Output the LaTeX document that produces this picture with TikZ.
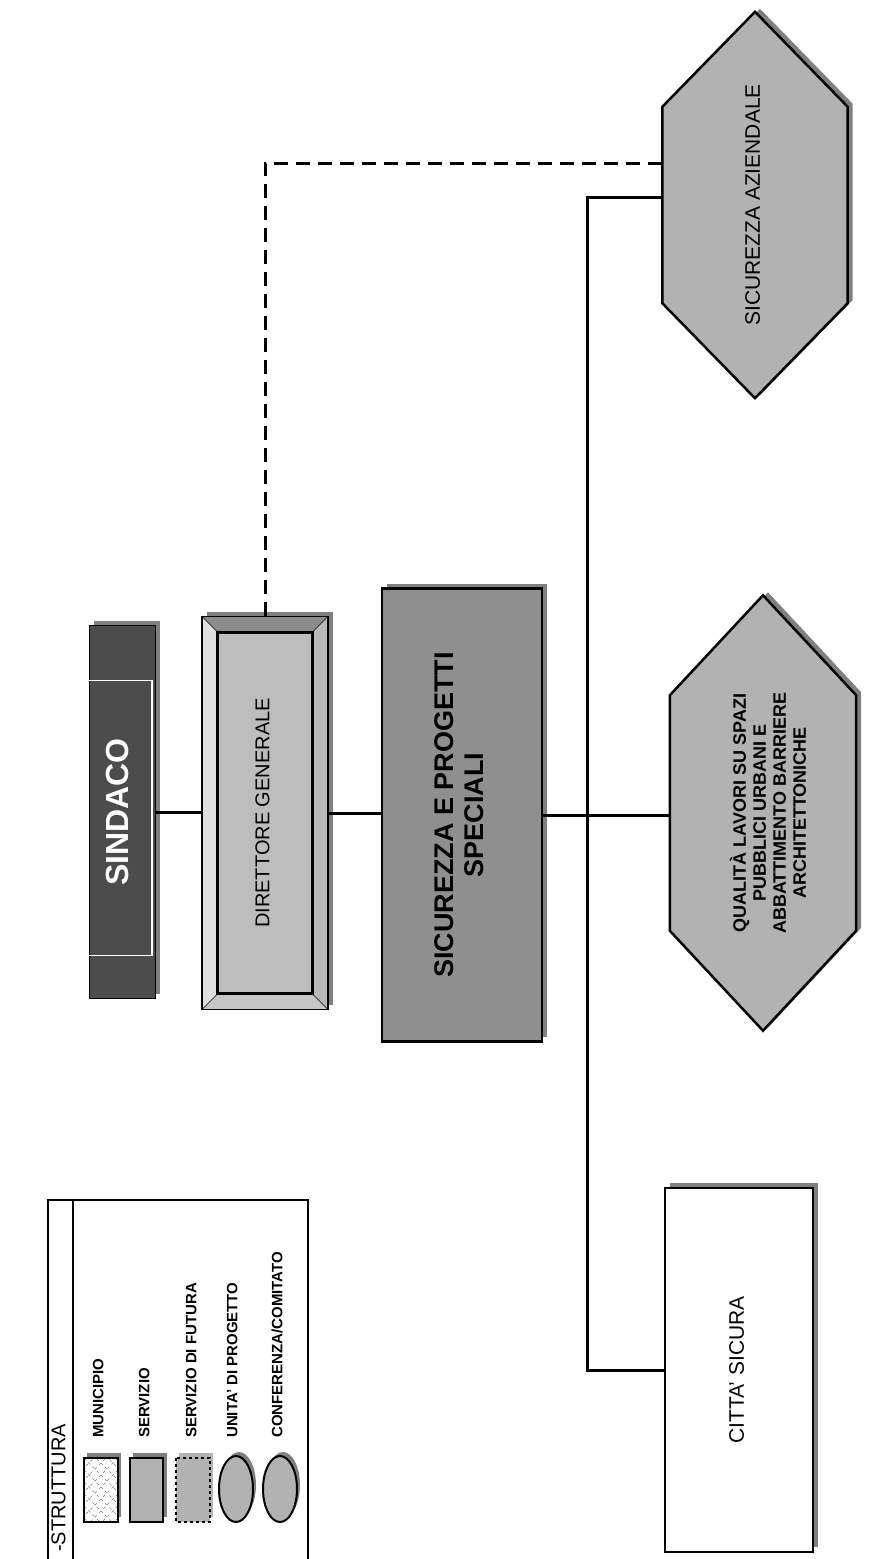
\documentclass[tikz,border=0pt]{standalone}
\usepackage{fontspec}
\setmainfont{Liberation Sans}
\usepackage{graphicx}
\usetikzlibrary{shadows}

\definecolor{sindacogray}{gray}{0.30}
\definecolor{dggray}{gray}{0.74}
\definecolor{spsgray}{gray}{0.56}
\definecolor{hexgray}{gray}{0.70}
\definecolor{shadowgray}{gray}{0.50}

\newcommand{\uptext}[1]{\rotatebox{90}{\begin{tabular}{@{}c@{}}#1\end{tabular}}}
\newcommand{\hexpath}[2]{(#1.north) -- ([yshift=-#2]#1.north east) -- ([yshift=#2]#1.south east) -- (#1.south) -- ([yshift=#2]#1.south west) -- ([yshift=-#2]#1.north west) -- cycle}

\tikzset{
  link/.style={line width=3pt},
  dashlink/.style={line width=3pt, dash pattern=on 14pt off 8pt},
  shadebox/.style={general shadow={fill=shadowgray, shadow xshift=5pt, shadow yshift=5pt}},
  sindacobox/.style={shadebox, draw, fill=sindacogray, text=white, minimum width=66pt, minimum height=373pt, inner sep=0pt, font=\fontsize{32}{34}\selectfont\bfseries},
  dgbox/.style={shadebox, draw, fill=dggray, minimum width=126pt, minimum height=393pt},
  spsbox/.style={shadebox, draw, line width=2.5pt, fill=spsgray, minimum width=160pt, minimum height=453pt, font=\fontsize{27}{30}\selectfont\bfseries},
  csbox/.style={shadebox, draw, line width=1.5pt, fill=white, minimum width=148pt, minimum height=364pt, font=\fontsize{21}{24}\selectfont},
  hexframe/.style={inner sep=0pt},
  hexline/.style={draw, line width=2.5pt, fill=hexgray},
  legendtext/.style={anchor=south, inner sep=0pt, font=\fontsize{15}{17}\selectfont\bfseries},
}

\begin{document}
\begin{tikzpicture}[x=1pt,y=-1pt]
  \useasboundingbox (0,0) rectangle (890,1559);

  % top of the chart
  \node[sindacobox] (sindaco) at (122,812) {\uptext{SINDACO}};
  \draw[white, line width=1.5pt] ([yshift=-55pt]sindaco.north west) -- ([xshift=-3pt,yshift=-55pt]sindaco.north east)
    -- ([xshift=-3pt,yshift=43pt]sindaco.south east) -- ([yshift=43pt]sindaco.south west);

  \node[dgbox] (dg) at (265,813) {};
  \fill[gray!50!black!60] (dg.north west) -- (dg.north east) -- ([xshift=-16pt,yshift=-16pt]dg.north east) -- ([xshift=16pt,yshift=-16pt]dg.north west) -- cycle;
  \fill[gray!45] (dg.south west) -- (dg.south east) -- ([xshift=-16pt,yshift=16pt]dg.south east) -- ([xshift=16pt,yshift=16pt]dg.south west) -- cycle;
  \fill[gray!25] (dg.north west) -- ([xshift=16pt,yshift=-16pt]dg.north west) -- ([xshift=16pt,yshift=16pt]dg.south west) -- (dg.south west) -- cycle;
  \fill[gray!55] (dg.north east) -- ([xshift=-16pt,yshift=-16pt]dg.north east) -- ([xshift=-16pt,yshift=16pt]dg.south east) -- (dg.south east) -- cycle;
  \draw (dg.north west) -- ([xshift=16pt,yshift=-16pt]dg.north west);
  \draw (dg.north east) -- ([xshift=-16pt,yshift=-16pt]dg.north east);
  \draw (dg.south west) -- ([xshift=16pt,yshift=16pt]dg.south west);
  \draw (dg.south east) -- ([xshift=-16pt,yshift=16pt]dg.south east);
  \draw[line width=1.5pt] (dg.north west) rectangle (dg.south east);
  \draw[line width=3pt] ([xshift=16pt,yshift=-16pt]dg.north west) rectangle ([xshift=-16pt,yshift=16pt]dg.south east);
  \node[font=\fontsize{20}{22}\selectfont] (dgtext) at (dg.center) {\uptext{DIRETTORE GENERALE}};

  \node[spsbox] (sps) at (462,815) {\uptext{SICUREZZA E PROGETTI\\SPECIALI}};

  % right column
  \node[hexframe, minimum width=185pt, minimum height=386pt] (sa-s) at (760,202) {};
  \fill[shadowgray] \hexpath{sa-s}{95pt};
  \node[hexframe, minimum width=185pt, minimum height=386pt] (sa) at (755,205) {};
  \draw[hexline] \hexpath{sa}{95pt};
  \node[font=\fontsize{21}{24}\selectfont] (satext) at (sa) {\uptext{SICUREZZA AZIENDALE}};

  \node[hexframe, minimum width=186pt, minimum height=435pt] (qlsp-s) at (768,810) {};
  \fill[shadowgray] \hexpath{qlsp-s}{100pt};
  \node[hexframe, minimum width=186pt, minimum height=435pt] (qlsp) at (763,813) {};
  \draw[hexline] \hexpath{qlsp}{100pt};
  \node[font=\fontsize{18}{20}\selectfont\bfseries] (qlsptext) at ([xshift=8pt]qlsp.center) {\uptext{QUALIT\`A LAVORI SU SPAZI\\PUBBLICI URBANI E\\ABBATTIMENTO BARRIERE\\ARCHITETTONICHE}};

  \node[csbox] (cs) at (739,1370) {\uptext{CITTA' SICURA}};

  % connectors
  \draw[link] (sindaco.east) -- (dg.west |- sindaco.east);
  \draw[link] (dg.east) -- (sps.west |- dg.east);
  \draw[dashlink] (dg.north) |- ([yshift=42pt]sa.west);
  \coordinate (bus) at (587,800);
  \draw[link] ([yshift=8pt]sa.west) -| (bus) |- (cs.west);
  \draw[link] (sps.east) -- (qlsp.west |- sps.east);

  % legend
  \draw[line width=2pt] (48,1559) -- (48,1200) -- (308,1200) -- (308,1559);
  \draw[line width=2pt] (73,1200) -- (73,1559);
  \node[anchor=south, inner sep=0pt, font=\fontsize{20}{22}\selectfont] (legtitle) at (61,1552) {\uptext{-STRUTTURA}};

  \fill[shadowgray] (87,1453) rectangle (121,1517);
  \draw[fill=white] (84,1458) rectangle (118,1522);
  \begin{scope}
    \clip (84,1458) rectangle (118,1522);
    \foreach \d in {-60,-48,...,60} {
      \draw[gray, dashed] (84,1458+\d) -- ++(40,40);
      \draw[gray, dashed] (118,1458+\d) -- ++(-40,40);
    }
  \end{scope}
  \draw[line width=1.5pt] (84,1458) rectangle (118,1522);
  \fill[shadowgray] (133,1453) rectangle (167,1517);
  \draw[line width=2pt, fill=gray!60] (130,1458) rectangle (163,1522);
  \fill[shadowgray!60] (179,1453) rectangle (213,1517);
  \draw[line width=2pt, dashed, fill=gray!60] (176,1458) rectangle (210,1522);
  \foreach \x in {236,280} {
    \fill[shadowgray] (\x+3,1485) ellipse [x radius=17, y radius=33];
    \draw[line width=2pt, fill=gray!60] (\x,1489) ellipse [x radius=17, y radius=33];
  }
  \foreach \x/\t in {100/MUNICIPIO, 146/SERVIZIO, 193/SERVIZIO DI FUTURA, 234/UNITA' DI PROGETTO, 279/{CONFERENZA/COMITATO}}
    \node[legendtext] (leg\x) at (\x,1438) {\uptext{\t}};
\end{tikzpicture}
\end{document}
